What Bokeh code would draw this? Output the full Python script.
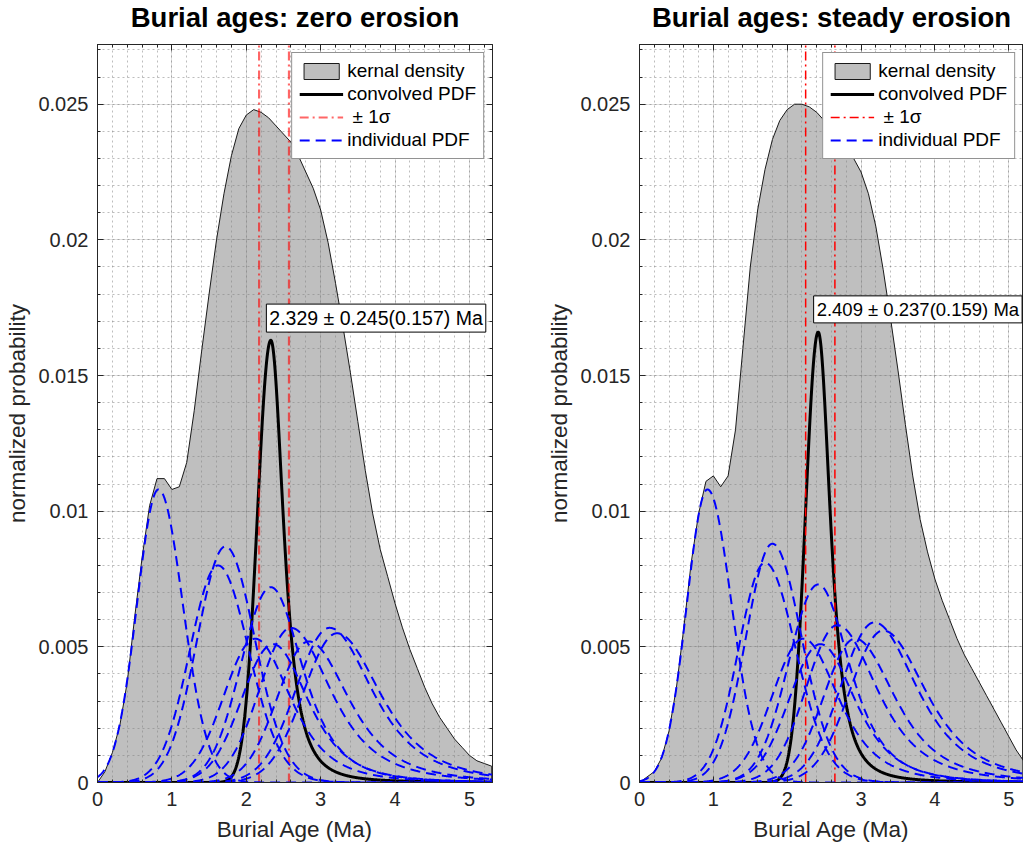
import numpy as np
from bokeh.plotting import figure
from bokeh.layouts import row, column
from bokeh.models import (Range1d, SingleIntervalTicker, LinearAxis, Label, Legend,
                          LegendItem, CustomJSTickFormatter, CustomLabelingPolicy)
from bokeh.embed import file_html
from bokeh.resources import INLINE

# ---------------- data ----------------
titles = ["Burial ages: zero erosion", "Burial ages: steady erosion"]
legend_labels = ["kernal density", "convolved PDF", " \u00b1 1\u03c3", "individual PDF"]
x_tick_labels = ["0", "1", "2", "3", "4", "5"]

# kernel density, sampled every 0.1 Ma starting at 0
kde_step = 0.1
kde_zero = [0.0000, 0.0004, 0.0011, 0.0021, 0.0037, 0.0061, 0.0083, 0.0102, 0.0112, 0.0112,
            0.0108, 0.0109, 0.0118, 0.0137, 0.0159, 0.0180, 0.0200, 0.0217, 0.0231, 0.0241,
            0.0246, 0.0248, 0.0247, 0.0245, 0.0242, 0.0239, 0.0236, 0.0231, 0.0225, 0.0219,
            0.0211, 0.0199, 0.0184, 0.0168, 0.0151, 0.0133, 0.0115, 0.0099, 0.0086, 0.0076,
            0.0066, 0.0057, 0.0049, 0.0042, 0.0035, 0.0029, 0.0024, 0.0020, 0.0016, 0.0013,
            0.0010, 0.0008, 0.0007, 0.0006]
kde_steady = [0.0000, 0.0002, 0.0004, 0.0009, 0.0019, 0.0035, 0.0057, 0.0081, 0.0099, 0.0111,
              0.0113, 0.0109, 0.0113, 0.0130, 0.0160, 0.0190, 0.0211, 0.0226, 0.0237, 0.0244,
              0.0248, 0.0250, 0.0250, 0.0249, 0.0247, 0.0244, 0.0241, 0.0238, 0.0234, 0.0230,
              0.0225, 0.0217, 0.0205, 0.0189, 0.0171, 0.0152, 0.0132, 0.0113, 0.0097, 0.0085,
              0.0075, 0.0067, 0.0060, 0.0053, 0.0047, 0.0042, 0.0037, 0.0032, 0.0027, 0.0022,
              0.0017, 0.0012, 0.0008]

# convolved PDF: mode, peak height, left width, right width, tail parameter
conv_zero = dict(mode=2.33, peak=0.0163, sl=0.18, sr=0.186, nu=2.0)
conv_steady = dict(mode=2.42, peak=0.0166, sl=0.17, sr=0.18, nu=2.0)

# reported ages: value, +error, -error (Ma)
age = [2.329, 2.409]
err_hi = [0.245, 0.237]
err_lo = [0.157, 0.159]

# individual PDFs: mode, peak height, left width, right width, tail parameter
ind_mode_zero = [0.82, 1.72, 1.62, 2.33, 2.12, 2.36, 2.60, 2.84, 3.12, 3.22]
ind_peak_zero = [0.0108, 0.0087, 0.0080, 0.0072, 0.0053, 0.0051, 0.0057, 0.0052, 0.0057, 0.0055]
ind_sl_zero = [0.29, 0.38, 0.38, 0.40, 0.42, 0.42, 0.42, 0.42, 0.45, 0.45]
ind_sr_zero = [0.33, 0.40, 0.42, 0.45, 0.50, 0.50, 0.58, 0.58, 0.62, 0.63]
ind_nu_zero = [50, 30, 30, 3, 3, 3, 2.5, 2.5, 2.5, 2.5]

ind_mode_steady = [0.92, 1.80, 1.70, 2.42, 2.22, 2.45, 2.68, 2.92, 3.18, 3.30]
ind_peak_steady = [0.0108, 0.0088, 0.0081, 0.0073, 0.0053, 0.0051, 0.0058, 0.0053, 0.0059, 0.0056]
ind_sl_steady = [0.28, 0.36, 0.36, 0.40, 0.42, 0.42, 0.42, 0.42, 0.45, 0.45]
ind_sr_steady = [0.33, 0.40, 0.42, 0.45, 0.50, 0.50, 0.58, 0.58, 0.62, 0.63]
ind_nu_steady = [50, 30, 30, 3, 3, 3, 2.5, 2.5, 2.5, 2.5]

# ---------------- styling ----------------
FONT = "Liberation Sans"
AX = "#262626"
Y_MAX = 0.0272
TITLE_H = 34
PLOT_H = 845 - TITLE_H

NO_LABELS = CustomLabelingPolicy(code="""
try { for (let i = 0; i < indices.size; i++) { indices.unset(i) } } catch (e) {}
return indices
""")


def peak_shape(x, mode, peak, sl, sr, nu):
    left = np.exp(-0.5 * ((x - mode) / sl) ** 2)
    right = (1.0 + ((x - mode) / sr) ** 2 / nu) ** (-(nu + 1.0) / 2.0)
    return peak * np.where(x < mode, left, right)


def style_axis(ax, labels=True):
    ax.axis_line_color = AX
    ax.major_tick_line_color = AX
    ax.minor_tick_line_color = AX
    ax.major_tick_in = 6
    ax.major_tick_out = 0
    ax.minor_tick_in = 3
    ax.minor_tick_out = 0
    if labels:
        ax.major_label_text_font = FONT
        ax.major_label_text_font_size = "20px"
        ax.major_label_text_color = AX
        ax.axis_label_text_font = FONT
        ax.axis_label_text_font_size = "22.5px"
        ax.axis_label_text_font_style = "normal"
        ax.axis_label_text_color = AX
    else:
        ax.major_label_text_font_size = "0px"
        ax.major_label_standoff = 0
        ax.major_label_policy = NO_LABELS
        ax.axis_label = None


def make_title(k, width, border_left, border_right):
    # the column aligns this strip's frame with the plot frame below it
    frame_w = width - border_left - border_right
    t = figure(width=width, height=TITLE_H, x_range=Range1d(0, frame_w), y_range=Range1d(0, TITLE_H),
               output_backend="svg", toolbar_location=None,
               min_border_left=border_left, min_border_right=border_right,
               min_border_top=0, min_border_bottom=0,
               x_axis_type=None, y_axis_type=None)
    t.outline_line_color = None
    t.grid.visible = False
    t.add_layout(Label(x=frame_w / 2, y=TITLE_H - 17, text=titles[k], text_font=FONT,
                       text_font_size="27.5px", text_font_style="bold", text_color="black",
                       text_align="center", text_baseline="middle"))
    return t


def make_panel(k, kde, conv, modes, peaks, sls, srs, nus, x_end, width,
               border_left, border_right, right_axis, sigma_width, sigma_alpha,
               label_dx, label_dy, label_size):
    p = figure(width=width, height=PLOT_H, x_range=Range1d(0, x_end), y_range=Range1d(0, Y_MAX),
               output_backend="svg", toolbar_location=None,
               min_border_left=border_left, min_border_right=border_right,
               min_border_top=44 - TITLE_H, min_border_bottom=63,
               x_axis_label="Burial Age (Ma)", y_axis_label="normalized probability")
    p.outline_line_color = AX
    p.outline_line_alpha = 1
    p.background_fill_color = "white"

    xt = SingleIntervalTicker(interval=1, num_minor_ticks=5)
    yt = SingleIntervalTicker(interval=0.005, num_minor_ticks=5)
    p.xaxis.ticker = xt
    p.yaxis.ticker = yt
    p.xgrid.ticker = xt
    p.ygrid.ticker = yt
    p.yaxis.formatter = CustomJSTickFormatter(code="return String(+tick.toFixed(4));")
    p.xaxis.major_label_overrides = {i: s for i, s in enumerate(x_tick_labels)}
    for ax in p.xaxis:
        style_axis(ax)
        ax.major_label_standoff = 9
        ax.axis_label_standoff = 8
    for ax in p.yaxis:
        style_axis(ax)
        ax.major_label_standoff = 9
        ax.axis_label_standoff = 5

    for g in (p.xgrid, p.ygrid):
        g.grid_line_color = AX
        g.grid_line_alpha = 0.15
        g.minor_grid_line_color = AX
        g.minor_grid_line_alpha = 0.3
        g.minor_grid_line_dash = "2 3"

    top = LinearAxis(ticker=xt)
    style_axis(top, labels=False)
    p.add_layout(top, "above")
    if right_axis:
        rgt = LinearAxis(ticker=yt)
        style_axis(rgt, labels=False)
        p.add_layout(rgt, "right")

    # kernel density
    kx = np.arange(len(kde)) * kde_step
    ky = np.array(kde)
    r_kde = p.patch(np.concatenate([kx, kx[::-1]]), np.concatenate([ky, np.zeros_like(ky)]),
                    fill_color="#808080", fill_alpha=0.5, line_color="#1a1a1a", line_width=1)

    xs = np.linspace(0, x_end, 900)
    # convolved PDF
    r_conv = p.line(xs, peak_shape(xs, **conv), line_color="black", line_width=3)

    # +/- 1 sigma
    lo = age[k] - err_lo[k]
    hi = age[k] + err_hi[k]
    r_sig = p.segment(x0=[lo, hi], y0=[0, 0], x1=[lo, hi], y1=[Y_MAX, Y_MAX],
                      line_color="#ff0000", line_alpha=sigma_alpha, line_width=sigma_width,
                      line_dash="9 4 2 4")

    # individual PDFs
    ys = [peak_shape(xs, m, a, sl, sr, nu) for m, a, sl, sr, nu in zip(modes, peaks, sls, srs, nus)]
    r_ind = p.multi_line([xs] * len(ys), ys, line_color="#0000ff", line_width=2, line_dash="10 6")

    legend = Legend(items=[LegendItem(label=legend_labels[0], renderers=[r_kde]),
                           LegendItem(label=legend_labels[1], renderers=[r_conv]),
                           LegendItem(label=legend_labels[2], renderers=[r_sig]),
                           LegendItem(label=legend_labels[3], renderers=[r_ind])],
                    location="top_right", margin=8, padding=7, spacing=1,
                    glyph_width=44, glyph_height=20, label_height=20, label_standoff=4,
                    label_text_font=FONT, label_text_font_size="19px", label_text_color="black",
                    border_line_color=AX, border_line_width=1, background_fill_alpha=1)
    p.add_layout(legend)

    txt = "%.3f \u00b1 %.3f(%.3f) Ma" % (age[k], err_hi[k], err_lo[k])
    lab = Label(x=conv["mode"] + label_dx, y=conv["peak"] + label_dy, text=txt,
                text_font=FONT, text_font_size=label_size, text_color="black",
                text_align="left", text_baseline="bottom",
                background_fill_color="white", border_line_color="black", border_line_width=1,
                padding=3)
    p.add_layout(lab)
    return p


p1 = make_panel(0, kde_zero, conv_zero, ind_mode_zero, ind_peak_zero, ind_sl_zero, ind_sr_zero,
                ind_nu_zero, 5.31, 540, 97, 48, True, 2.2, 0.6, -0.06, 0.0003, "19.5px")
p2 = make_panel(1, kde_steady, conv_steady, ind_mode_steady, ind_peak_steady, ind_sl_steady,
                ind_sr_steady, ind_nu_steady, 5.20, 483, 99, 0, False, 1.5, 1.0,
                -0.062, 0.00034, "18.5px")
t1 = make_title(0, 540, 97, 48)
t2 = make_title(1, 483, 99, 0)

layout = row(column(t1, p1, spacing=0), column(t2, p2, spacing=0), spacing=0)
open("out.html", "w").write(file_html(layout, INLINE))
